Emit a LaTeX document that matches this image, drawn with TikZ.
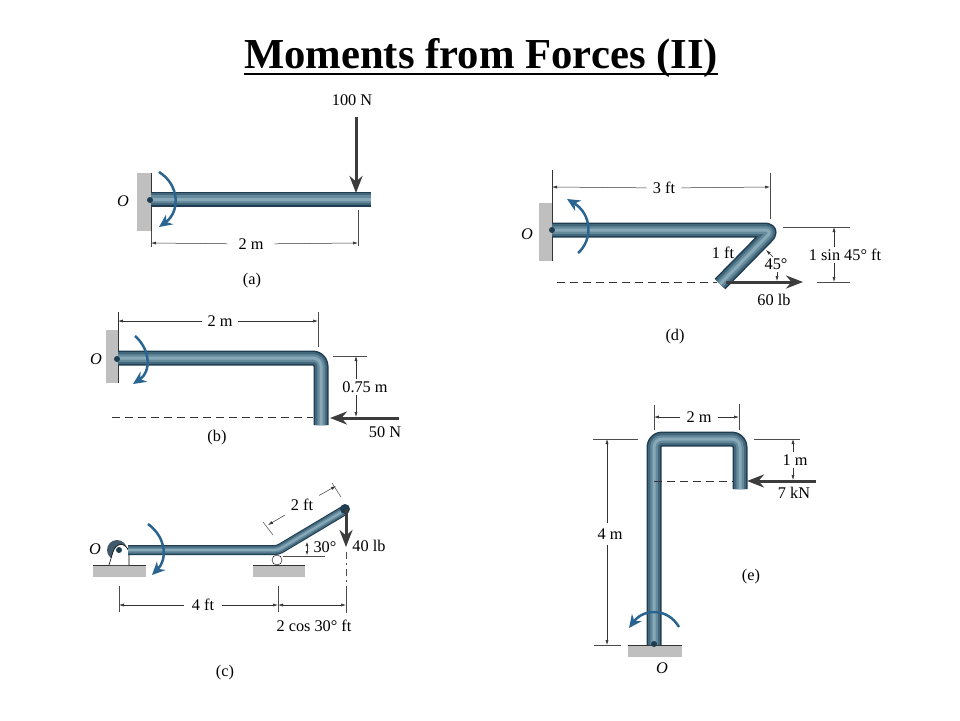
\documentclass[tikz,border=0pt]{standalone}
\usepackage{fontspec}
\setmainfont{Liberation Serif}
\usepackage{xcolor}
\usetikzlibrary{arrows.meta,calc}
\definecolor{rodA}{HTML}{1F3C50}
\definecolor{rodB}{HTML}{43677B}
\definecolor{rodC}{HTML}{648A9C}
\definecolor{rodD}{HTML}{88A9B7}
\definecolor{momentblue}{HTML}{2A6490}
\definecolor{forcegray}{HTML}{3C3C3C}
\tikzset{
  rod/.style={line width=#1pt,draw=rodA,line join=round,rounded corners=8pt,
    postaction={draw=rodB,line width=0.8*#1pt},
    postaction={draw=rodC,line width=0.5*#1pt},
    postaction={draw=rodD,line width=0.2*#1pt}},
  wallbox/.style={fill=gray!50},
  edgeline/.style={line width=0.7pt,draw=black!80},
  force/.style={line width=3pt,draw=forcegray,-{Stealth[length=17pt,width=13pt]}},
  moment/.style={line width=2.5pt,draw=momentblue,-{Stealth[length=13pt,width=12pt]}},
  dim/.style={line width=0.5pt,draw=black!80,-{Latex[length=5pt,width=3pt]}},
  ext/.style={line width=0.5pt,draw=black!70},
  dashline/.style={line width=0.6pt,draw=black!80,dash pattern=on 8pt off 5pt},
  lbl/.style={font=\fontsize{16.3}{18}\selectfont,inner sep=0pt},
  pin/.style={circle,fill=rodA,inner sep=0pt,minimum size=#1pt}
}
\begin{document}
\begin{tikzpicture}[x=1pt,y=-1pt]
    \useasboundingbox[fill=white] (0,0) rectangle (960,720);
    \node[inner sep=0pt,font=\fontsize{42.7}{46}\selectfont\bfseries] (title) at (481,58) {Moments from Forces (II)};
    \draw[line width=2.6pt] (title.base west |- 0,74) -- (title.base east |- 0,74);

    % (a)
    \fill[wallbox] (137,173) rectangle (151,231);
    \draw[edgeline] (151,173) -- (151,231);
    \draw[rod=15] (151,199) -- (371,199);
    \node[pin=6] (aO) at (150,200) {};
    \node[lbl] (aOl) at (123,201) {\textit{O}};
    \coordinate (aF) at (356,117);
    \coordinate (aFe) at (356,193);
    \draw[force] (aF) -- (aFe);
    \node[lbl] (aFl) at (352,100) {100 N};
    \draw[moment] (159,172) .. controls (180,185) and (180,212) .. (159,227);
    \node[lbl,inner xsep=11pt] (aD) at (251,244) {2 m};
    \coordinate (aDl) at (151,243);
    \coordinate (aDr) at (358,243);
    \draw[dim] (aD) -- (aDl);
    \draw[dim] (aD) -- (aDr);
    \draw[ext] (151,231) -- (151,247);
    \draw[ext] (358,210) -- (358,246);
    \node[lbl] (aCap) at (252,281) {(a)};

    % (b)
    \fill[wallbox] (106,330) rectangle (118,383);
    \draw[edgeline] (118,312) -- (118,383);
    \draw[rod=15] (118,358) -- (321,358) -- (321,425);
    \node[pin=6] (bO) at (117,359) {};
    \node[lbl] (bOl) at (96,359) {\textit{O}};
    \draw[moment] (135,336) .. controls (151,350) and (151,372) .. (133,384);
    \node[lbl,inner xsep=5pt] (bD) at (220,321) {2 m};
    \coordinate (bDl) at (118,321);
    \coordinate (bDr) at (318,321);
    \draw[dim] (bD) -- (bDl);
    \draw[dim] (bD) -- (bDr);
    \draw[ext] (318,312) -- (318,347);
    \draw[ext] (333,356) -- (367,356);
    \node[lbl,inner ysep=2pt] (bV) at (365,387) {0.75 m};
    \coordinate (bVt) at (356,356);
    \coordinate (bVb) at (356,417);
    \draw[dim] (bV.north -| bVt) -- (bVt);
    \draw[dim] (bV.south -| bVb) -- (bVb);
    \coordinate (bLine) at (112,417);
    \coordinate (bLinee) at (313,417);
    \draw[dashline] (bLine) -- (bLinee);
    \coordinate (bF) at (399,418);
    \coordinate (bFe) at (330,418);
    \draw[force] (bF) -- (bFe);
    \node[lbl] (bFl) at (385,432) {50 N};
    \node[lbl] (bCap) at (217,438) {(b)};

    % (c)
    \fill[wallbox] (93,565) rectangle (146,577);
    \fill[wallbox] (253,565) rectangle (305,577);
    \draw[edgeline] (93,565) -- (146,565);
    \draw[edgeline] (253,565) -- (305,565);
    \fill[rodA!85] (117,550) circle [radius=10];
    \draw[fill=white,line width=0.6pt] (109,565) -- (113,552) .. controls (116,542) and (126,542) .. (129,552) -- (129,565);
    \draw[rod=10,rounded corners=3pt] (128,550) -- (278,550) -- (345,510);
    \fill[rodA] (345,509) circle [radius=5];
    \node[pin=6] (cO) at (119,550) {};
    \node[lbl] (cOl) at (95,549) {\textit{O}};
    \node[circle,draw,fill=white,inner sep=0pt,minimum size=10pt] (cRoll) at (277,560) {};
    \draw[ext] (283,556) -- (325,556);
    \draw[moment] (148,524) .. controls (167,538) and (167,560) .. (152,575);
    \coordinate (cF) at (346,509);
    \coordinate (cFe) at (346,547);
    \draw[force] (cF) -- (cFe);
    \node[lbl] (cFl) at (369,546) {40 lb};
    \draw[ext,dash pattern=on 7pt off 4pt on 2pt off 4pt] (346,552) -- (346,586);
    \node[lbl] (cA) at (325,547) {30\textdegree};
    \draw[dim,{Latex[length=4pt,width=3pt]}-{Latex[length=4pt,width=3pt]}] (307,542) -- (307,555);
    \draw[ext] (119,586) -- (119,612);
    \draw[ext] (278,586) -- (278,612);
    \draw[ext] (346,586) -- (346,613);
    \node[lbl,inner xsep=8pt] (cD) at (203,605) {4 ft};
    \coordinate (cDl) at (119,605);
    \coordinate (cDm) at (278,605);
    \coordinate (cDr) at (346,605);
    \draw[dim] (cD) -- (cDl);
    \draw[dim] (cD) -- (cDm);
    \draw[dim,{Latex[length=5pt,width=3pt]}-{Latex[length=5pt,width=3pt]}] (cDm) -- (cDr);
    \node[lbl] (cDt) at (314,626) {2 cos 30\textdegree\ ft};
    \node[lbl,inner sep=6pt] (cS) at (302,505) {2 ft};
    \coordinate (cSl) at (268,525);
    \coordinate (cSr) at (336,486);
    \draw[dim] (cS) -- (cSl);
    \draw[dim] (cS) -- (cSr);
    \draw[ext] (263,522) -- (273,535);
    \draw[ext] (332,483) -- (341,497);
    \node[lbl] (cCap) at (225,673) {(c)};

    % (d)
    \fill[wallbox] (539,203) rectangle (552,261);
    \draw[edgeline] (552,170) -- (552,261);
    \draw[rod=15] (552,230) -- (773,230) -- (720,284);
    \node[pin=6] (dO) at (552,230) {};
    \node[lbl] (dOl) at (527,234) {\textit{O}};
    \draw[moment] (578,253) .. controls (593,240) and (592,214) .. (567,199);
    \node[lbl,inner xsep=6pt] (dD) at (664,188) {3 ft};
    \coordinate (dDl) at (552,187);
    \coordinate (dDr) at (770,187);
    \draw[dim] (dD) -- (dDl);
    \draw[dim] (dD) -- (dDr);
    \draw[ext] (770,173) -- (770,219);
    \draw[ext] (783,227) -- (850,227);
    \draw[ext] (817,282) -- (850,282);
    \node[lbl,inner ysep=2pt] (dV) at (845,255) {1 sin 45\textdegree\ ft};
    \coordinate (dVt) at (834,227);
    \coordinate (dVb) at (834,282);
    \draw[dim] (dV.north -| dVt) -- (dVt);
    \draw[dim] (dV.south -| dVb) -- (dVb);
    \coordinate (dLine) at (557,282);
    \coordinate (dLinee) at (717,282);
    \draw[dashline] (dLine) -- (dLinee);
    \coordinate (dF) at (726,282);
    \coordinate (dFe) at (803,282);
    \draw[force] (dF) -- (dFe);
    \node[lbl] (dFl) at (774,300) {60 lb};
    \node[lbl] (dL) at (723,253) {1 ft};
    \node[lbl] (dA) at (776,264) {45\textdegree};
    \draw[dim] (773,257) -- (766,250);
    \draw[dim] (777,272) -- (777,281);
    \node[lbl] (dCap) at (675,337) {(d)};

    % (e)
    \fill[wallbox] (628,645) rectangle (682,657);
    \draw[edgeline] (628,645) -- (682,645);
    \draw[rod=15] (654,645) -- (654,439) -- (740,439) -- (740,489);
    \node[pin=6] (eO) at (654,644) {};
    \node[lbl] (eOl) at (662,668) {\textit{O}};
    \draw[moment] (679,627) .. controls (668,608) and (644,608) .. (629,628);
    \node[lbl,inner xsep=6pt] (eD) at (699,417) {2 m};
    \coordinate (eDl) at (654,417);
    \coordinate (eDr) at (739,417);
    \draw[dim] (eD) -- (eDl);
    \draw[dim] (eD) -- (eDr);
    \draw[ext] (654,405) -- (654,430);
    \draw[ext] (739,404) -- (739,430);
    \draw[ext] (593,439) -- (638,439);
    \draw[ext] (594,645) -- (621,645);
    \draw[ext] (754,439) -- (800,439);
    \node[lbl,inner ysep=5pt] (eV) at (610,534) {4 m};
    \coordinate (eVt) at (607,439);
    \coordinate (eVb) at (607,645);
    \draw[dim] (eV.north -| eVt) -- (eVt);
    \draw[dim] (eV.south -| eVb) -- (eVb);
    \node[lbl,inner ysep=2pt] (eW) at (795,460) {1 m};
    \coordinate (eWt) at (793,439);
    \coordinate (eWb) at (793,480);
    \draw[dim] (eW.north -| eWt) -- (eWt);
    \draw[dim] (eW.south -| eWb) -- (eWb);
    \coordinate (eLine) at (654,481);
    \coordinate (eLinee) at (733,481);
    \draw[dashline] (eLine) -- (eLinee);
    \coordinate (eF) at (816,481);
    \coordinate (eFe) at (747,481);
    \draw[force] (eF) -- (eFe);
    \node[lbl] (eFl) at (794,493) {7 kN};
    \node[lbl] (eCap) at (751,577) {(e)};
\end{tikzpicture}
\end{document}
